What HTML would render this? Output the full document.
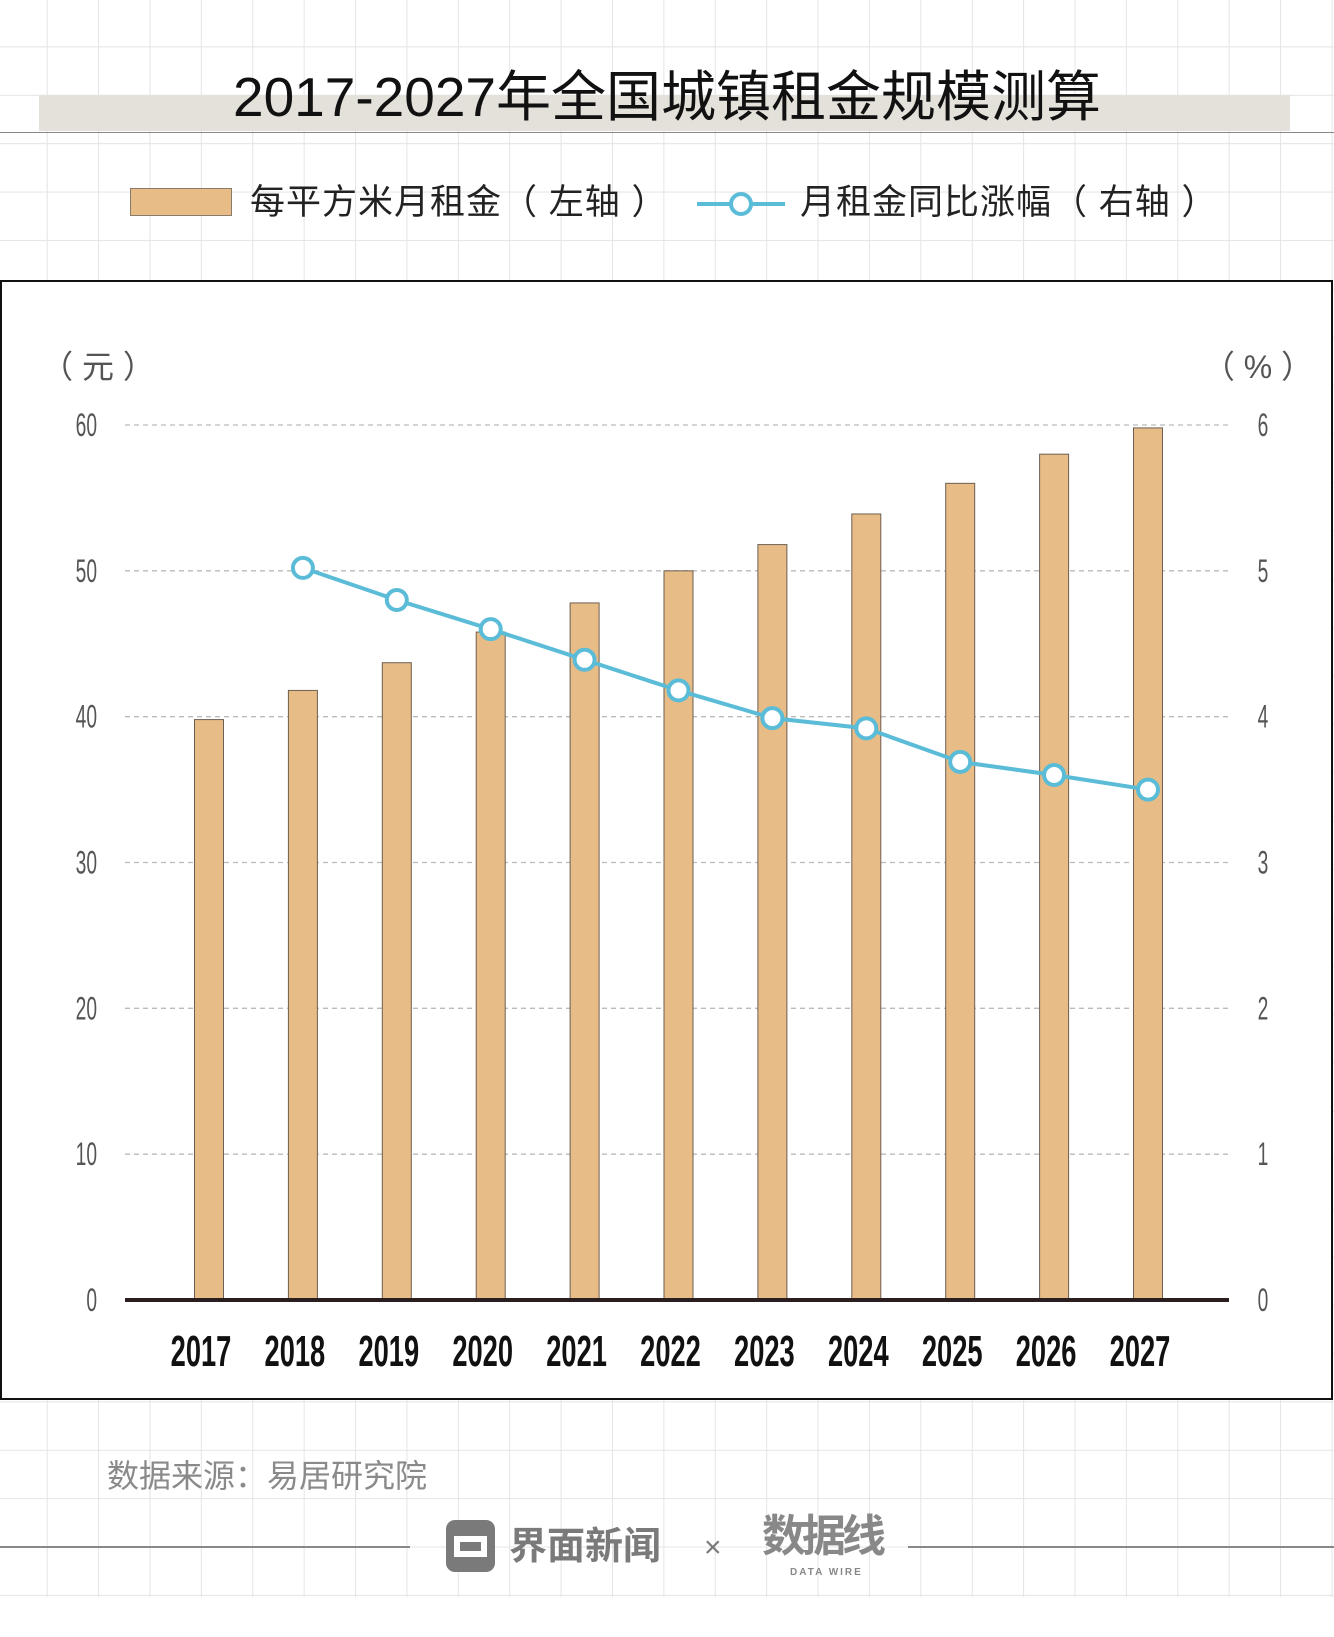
<!DOCTYPE html>
<html><head><meta charset="utf-8">
<style>
html,body{margin:0;padding:0;}
body{width:1334px;height:1637px;position:relative;overflow:hidden;background-color:#fff;
font-family:"Liberation Sans","Noto Sans CJK SC",sans-serif;}
#grid{position:absolute;left:0;top:0;width:1334px;height:1597px;
background-image:linear-gradient(to right,#e4e4e4 1px,transparent 1px),linear-gradient(to bottom,#e4e4e4 1px,transparent 1px);
background-size:51.4px 48.4px;background-position:46.7px 46.4px;}
.abs{position:absolute;}
</style></head><body>
<div id="grid"></div>
<div class="abs" style="left:39px;top:95px;width:1251px;height:36px;background:#e4e1db;"></div>
<div class="abs" style="left:0;top:132px;width:1334px;height:1px;background:#888;"></div>
<div class="abs" style="left:0;width:1334px;top:64px;text-align:center;font-size:55px;line-height:66px;color:#111;">2017-2027年全国城镇租金规模测算</div>

<div class="abs" style="left:130px;top:188px;width:102px;height:28px;background:#e7bc86;border:1px solid #8a7a6a;box-sizing:border-box;"></div>
<div class="abs" style="left:250px;top:180px;font-size:35px;line-height:46px;color:#222;letter-spacing:1px;">每平方米月租金（ 左轴 ）</div>
<svg class="abs" style="left:695px;top:188px" width="92" height="32">
<line x1="2" y1="16" x2="90" y2="16" stroke="#5bbcd8" stroke-width="4"/>
<circle cx="46" cy="16" r="10" fill="#fff" stroke="#5bbcd8" stroke-width="4"/></svg>
<div class="abs" style="left:800px;top:180px;font-size:35px;line-height:46px;color:#222;letter-spacing:1px;">月租金同比涨幅（ 右轴 ）</div>

<svg id="chart" class="abs" style="left:0;top:280px" width="1334" height="1121"></svg>

<div class="abs" style="left:107px;top:1456px;font-size:32px;line-height:40px;color:#8a8a8a;">数据来源：易居研究院</div>
<div class="abs" style="left:0;top:1546px;width:410px;height:2px;background:#888;"></div>
<div class="abs" style="left:908px;top:1546px;width:426px;height:2px;background:#888;"></div>
<div class="abs" style="left:446px;top:1520px;width:49px;height:52px;background:#7a7a7a;border-radius:9px;"></div>
<svg class="abs" style="left:446px;top:1520px" width="49" height="52"><path d="M8 16 L41 16 L41 37 L8 37 Z M14 22 L35 22 L35 31 L14 31 Z" fill="#fff" fill-rule="evenodd"/></svg>
<div class="abs" style="left:509px;top:1524px;font-size:38px;line-height:46px;font-weight:bold;color:#7a7a7a;">界面新闻</div>
<div class="abs" style="left:704px;top:1528px;font-size:30px;line-height:40px;color:#7a7a7a;">×</div>
<div class="abs" style="left:762px;top:1512px;font-size:44px;line-height:50px;font-weight:bold;color:#888;letter-spacing:-4px;">数据线</div>
<div class="abs" style="left:790px;top:1567px;font-size:10px;font-weight:bold;color:#888;letter-spacing:2px;">DATA WIRE</div>

<script>
const years=['2017','2018','2019','2020','2021','2022','2023','2024','2025','2026','2027'];
const rent=[39.8,41.8,43.7,45.8,47.8,50,51.8,53.9,56,58,59.8];
const growth=[null,5.02,4.8,4.6,4.39,4.18,3.99,3.92,3.69,3.6,3.5];
const leftTicks=[0,10,20,30,40,50,60];
const rightTicks=[0,1,2,3,4,5,6];

const NS='http://www.w3.org/2000/svg';
const svg=document.getElementById('chart');
function mk(t,a){const e=document.createElementNS(NS,t);for(const k in a)e.setAttribute(k,a[k]);svg.appendChild(e);return e;}
const y0=1020, yTop=145;
const yL=v=>y0-(v/60)*(y0-yTop);
const yR=v=>y0-(v/6)*(y0-yTop);
const x0=209, dx=(1148-209)/10;
const xB=i=>x0+i*dx;

let r=mk('rect',{x:1,y:1,width:1331,height:1118,fill:'#fff',stroke:'#111','stroke-width':2});



leftTicks.forEach((v,i)=>{
  const y=yL(v);
  if(v>0){let g=mk('line',{x1:125,x2:1229,y1:y,y2:y,stroke:'#bbb','stroke-dasharray':'5,4','stroke-width':1.3});
  
  }
  let t=mk('text',{x:97,y:y+11,'text-anchor':'end','font-size':32,fill:'#555',transform:`translate(97 0) scale(0.6 1) translate(-97 0)`});
  t.textContent=v;
  
  
});
rightTicks.forEach(v=>{
  const y=yR(v);
  let t=mk('text',{x:1263,y:y+11,'text-anchor':'middle','font-size':32,fill:'#555',transform:`translate(1263 0) scale(0.6 1) translate(-1263 0)`});
  t.textContent=v;
  
  
});
let u1=mk('text',{x:98,y:98,'text-anchor':'middle','font-size':32,fill:'#555'});
u1.textContent='（ 元 ）';


let u2=mk('text',{x:1258,y:98,'text-anchor':'middle','font-size':32,fill:'#555'});
u2.textContent='（ % ）';



rent.forEach((v,i)=>{
  const b=mk('rect',{x:xB(i)-14.5,y:yL(v),width:29,height:y0-yL(v),fill:'#e7bc86',stroke:'#6e5f52','stroke-width':1});
  
  
  const t=mk('text',{x:xB(i)-8,y:1086,'text-anchor':'middle','font-size':44,'font-weight':'bold',fill:'#111',transform:`translate(${xB(i)-8} 0) scale(0.62 1) translate(${-(xB(i)-8)} 0)`});
  t.textContent=years[i];
  
  
});
let ax=mk('line',{x1:125,x2:1229,y1:y0,y2:y0,stroke:'#2a1e1e','stroke-width':4});



const pts=[];growth.forEach((v,i)=>{if(v!==null)pts.push([xB(i),yR(v)]);});
let pl=mk('polyline',{points:pts.map(p=>p.join(',')).join(' '),fill:'none',stroke:'#5bbcd8','stroke-width':4});


growth.forEach((v,i)=>{ if(v===null)return;
  const c=mk('circle',{cx:xB(i),cy:yR(v),r:10,fill:'#fff',stroke:'#5bbcd8','stroke-width':4});
  
  
});
</script>
</body></html>
